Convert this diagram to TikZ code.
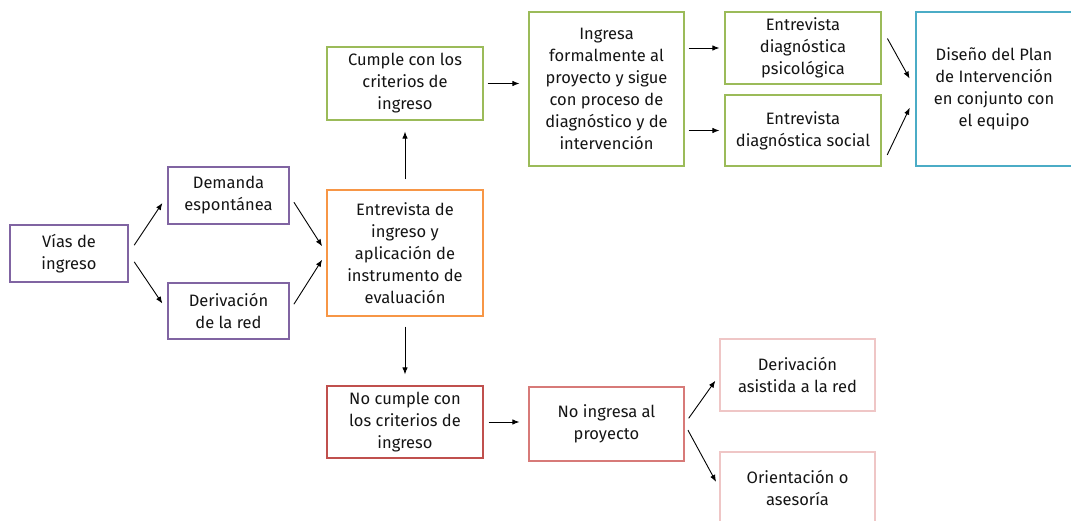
\documentclass[tikz,border=0pt]{standalone}
\usepackage{fontspec}
\setmainfont{Fira Sans}
\usetikzlibrary{arrows.meta}
\definecolor{lila}{HTML}{8064A2}
\definecolor{naranja}{HTML}{F79646}
\definecolor{verde}{HTML}{9BBB59}
\definecolor{celeste}{HTML}{4BACC6}
\definecolor{rojo}{HTML}{C0504D}
\definecolor{rojoclaro}{HTML}{D77A78}
\definecolor{rosado}{HTML}{EFC6C6}
\begin{document}
\begin{tikzpicture}[x=1pt, y=-1pt,
    every node/.style={draw, align=center, inner sep=0pt, line width=1.2pt,
      text=black!92, font=\fontsize{16.5}{22}\selectfont},
    flecha/.style={-{Latex[length=7pt,width=5.5pt]}, line width=0.9pt}]
      \useasboundingbox (0,0) rectangle (1071,520);
      \node (vias) at (69,253.5) [draw=lila, minimum width=118pt, minimum height=57pt] {Vías de\\ingreso};
      \node (dem) at (228.5,195.5) [draw=lila, minimum width=121pt, minimum height=57pt] {Demanda\\espontánea};
      \node (der) at (228.5,311) [draw=lila, minimum width=121pt, minimum height=56pt] {Derivación\\de la red};

      \node (ent) at (405,253) [draw=naranja, minimum width=156pt, minimum height=126pt] {Entrevista de\\ingreso y\\aplicación de\\instrumento de\\evaluación};
      \node (cumple) at (405,83.5) [draw=verde, minimum width=156pt, minimum height=73pt] {Cumple con los\\criterios de\\ingreso};
      \node (nocumple) at (405,422) [draw=rojo, minimum width=156pt, minimum height=72pt] {No cumple con\\los criterios de\\ingreso};

      \node (ingresa) at (606.5,89) [draw=verde, minimum width=155pt, minimum height=154pt] {Ingresa\\formalmente al\\proyecto y sigue\\con proceso de\\diagnóstico y de\\intervención};
      \node (noingresa) at (606.5,424) [draw=rojoclaro, minimum width=155pt, minimum height=74pt] {No ingresa al\\proyecto};

      \node (psico) at (803,48) [draw=verde, minimum width=156pt, minimum height=72pt] {Entrevista\\diagnóstica\\psicológica};
      \node (social) at (803,130.5) [draw=verde, minimum width=156pt, minimum height=71pt] {Entrevista\\diagnóstica social};
      \node (diseno) at (994,89) [draw=celeste, minimum width=156pt, minimum height=154pt] {Diseño del Plan\\de Intervención\\en conjunto con\\el equipo};

      \node (asistida) at (797.5,375) [draw=rosado, minimum width=155pt, minimum height=72pt] {Derivación\\asistida a la red};
      \node (orienta) at (797.5,488) [draw=rosado, minimum width=155pt, minimum height=72pt] {Orientación o\\asesoría};

      \draw[flecha, shorten <=10pt, shorten >=9pt] (vias.east) -- (dem.west);
      \draw[flecha, shorten <=10pt, shorten >=9pt] (vias.east) -- (der.west);
      \draw[flecha, shorten <=8pt, shorten >=8pt] (dem.east) -- (ent.west);
      \draw[flecha, shorten <=8pt, shorten >=8pt] (der.east) -- (ent.west);
      \draw[flecha, shorten <=10pt, shorten >=11pt] (ent.north) -- (cumple.south);
      \draw[flecha, shorten <=10pt, shorten >=11pt] (ent.south) -- (nocumple.north);
      \draw[flecha, shorten <=4pt, shorten >=9pt] (cumple.east) -- (cumple.east -| ingresa.west);
      \draw[flecha, shorten <=4pt, shorten >=5pt] (ingresa.east |- psico.west) -- (psico.west);
      \draw[flecha, shorten <=4pt, shorten >=5pt] (ingresa.east |- social.west) -- (social.west);
      \draw[flecha, shorten <=12pt, shorten >=12pt] ([yshift=20pt]psico.east) -- (diseno.west);
      \draw[flecha, shorten <=13pt, shorten >=13pt] (social.south east) -- ([yshift=-7pt]diseno.west);
      \draw[flecha, shorten <=5pt, shorten >=9pt] (nocumple.east) -- (nocumple.east -| noingresa.west);
      \draw[flecha, shorten <=7pt, shorten >=7pt] (noingresa.east) -- (asistida.west);
      \draw[flecha, shorten <=7pt, shorten >=7pt] (noingresa.east) -- (orienta.west);
    \end{tikzpicture}
\end{document}
